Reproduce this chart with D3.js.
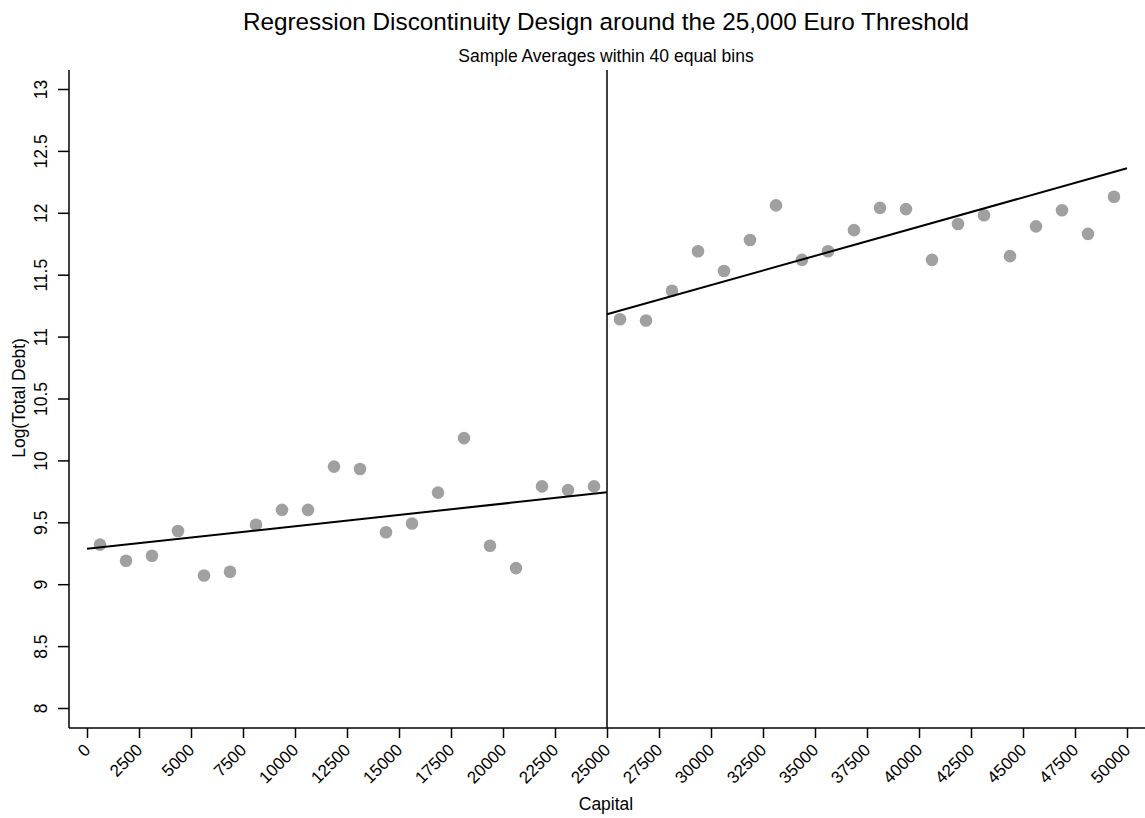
<!DOCTYPE html>
<html>
<head>
<meta charset="utf-8">
<script src="https://d3js.org/d3.v7.min.js"></script>
<style>
  body { margin: 0; background: #fff; }
  text { font-family: "Liberation Sans", Arial, sans-serif; fill: #000; }
</style>
</head>
<body>
<div id="main"></div>
<script>
const width = 1145, height = 818;

// bin midpoints (40 equal bins of 1250 over 0..50000)
const binCenters = [625, 1875, 3125, 4375, 5625, 6875, 8125, 9375, 10625, 11875,
  13125, 14375, 15625, 16875, 18125, 19375, 20625, 21875, 23125, 24375,
  25625, 26875, 28125, 29375, 30625, 31875, 33125, 34375, 35625, 36875,
  38125, 39375, 40625, 41875, 43125, 44375, 45625, 46875, 48125, 49375];

// sample averages of log(total debt)
const binMeans = [9.32, 9.19, 9.23, 9.43, 9.07, 9.10, 9.48, 9.60, 9.60, 9.95,
  9.93, 9.42, 9.49, 9.74, 10.18, 9.31, 9.13, 9.79, 9.76, 9.79,
  11.14, 11.13, 11.37, 11.69, 11.53, 11.78, 12.06, 11.62, 11.69, 11.86,
  12.04, 12.03, 11.62, 11.91, 11.98, 11.65, 11.89, 12.02, 11.83, 12.13];

// fitted lines either side of the threshold
const fitLeft = [[0, 9.286], [25000, 9.742]];
const fitRight = [[25000, 11.18], [50000, 12.36]];

const xTicks = d3.range(0, 50001, 2500);
const yTicks = [8, 8.5, 9, 9.5, 10, 10.5, 11, 11.5, 12, 12.5, 13];
const threshold = 25000;

const svg = d3.select("#main").append("svg")
  .attr("width", width).attr("height", height);

const x = d3.scaleLinear().domain([0, 50000]).range([87, 1127]);
const y = d3.scaleLinear().domain([8, 13]).range([708, 89]);

const plotLeft = 69, plotRight = 1145, plotTop = 70, plotBottom = 728;

// axes frame
svg.append("line").attr("x1", plotLeft).attr("x2", plotLeft).attr("y1", plotTop).attr("y2", plotBottom)
  .attr("stroke", "#000").attr("stroke-width", 1.5);
svg.append("line").attr("x1", plotLeft).attr("x2", plotRight).attr("y1", plotBottom).attr("y2", plotBottom)
  .attr("stroke", "#000").attr("stroke-width", 1.5);

// y axis
const yAxis = svg.append("g").attr("transform", "translate(" + plotLeft + ",0)")
  .call(d3.axisLeft(y).tickValues(yTicks).tickSize(11).tickFormat(d => String(d)));
yAxis.select(".domain").remove();
yAxis.selectAll("line").attr("stroke-width", 1.5);
yAxis.selectAll("text")
  .style("font-size", "17.5px")
  .attr("x", 0).attr("dy", null)
  .attr("transform", "translate(-27,0) rotate(-90)")
  .attr("dominant-baseline", "middle")
  .attr("text-anchor", "middle");

// x axis
const xAxis = svg.append("g").attr("transform", "translate(0," + plotBottom + ")")
  .call(d3.axisBottom(x).tickValues(xTicks).tickSize(10).tickFormat(d => d));
xAxis.select(".domain").remove();
xAxis.selectAll("line").attr("stroke-width", 1.5);
xAxis.selectAll("text")
  .style("font-size", "17px")
  .attr("text-anchor", "end")
  .attr("y", 0).attr("dy", 0)
  .attr("transform", "translate(4,23) rotate(-45)");

// threshold line
svg.append("line")
  .attr("x1", x(threshold)).attr("x2", x(threshold))
  .attr("y1", plotTop).attr("y2", plotBottom)
  .attr("stroke", "#000").attr("stroke-width", 1.5);

// points
svg.append("g").selectAll("circle")
  .data(binCenters.map((c, i) => [c, binMeans[i]]))
  .join("circle")
  .attr("cx", d => x(d[0]))
  .attr("cy", d => y(d[1]))
  .attr("r", 6.3)
  .attr("fill", "#a0a0a0");

// fit lines
const line = d3.line().x(d => x(d[0])).y(d => y(d[1]));
[fitLeft, fitRight].forEach(f => {
  svg.append("path").attr("d", line(f))
    .attr("fill", "none").attr("stroke", "#000").attr("stroke-width", 2);
});

// titles
svg.append("text").attr("x", 606).attr("y", 30).attr("text-anchor", "middle")
  .style("font-size", "24.3px").text("Regression Discontinuity Design around the 25,000 Euro Threshold");
svg.append("text").attr("x", 606).attr("y", 62).attr("text-anchor", "middle")
  .style("font-size", "17.5px").text("Sample Averages within 40 equal bins");

svg.append("text").attr("x", 606).attr("y", 810).attr("text-anchor", "middle")
  .style("font-size", "17.5px").text("Capital");
svg.append("text")
  .attr("transform", "translate(25,398) rotate(-90)")
  .attr("text-anchor", "middle")
  .style("font-size", "17.5px").text("Log(Total Debt)");
</script>
</body>
</html>
